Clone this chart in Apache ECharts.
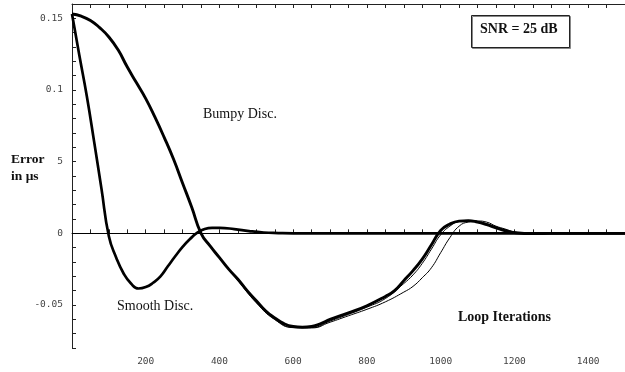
<!DOCTYPE html>
<html>
<head>
<meta charset="utf-8">
<script src="https://cdn.jsdelivr.net/npm/echarts@6/dist/echarts.min.js"></script>
<style>
  html, body { margin: 0; padding: 0; background: #fff; }
  #chart { width: 625px; height: 372px; }
</style>
</head>
<body>
<div id="chart"></div>
<script>
// smooth disc: thick measured curve
const smoothX = [0, 20, 40, 60, 80, 100, 120, 140, 160, 180, 200, 220, 240, 260, 280, 300, 320, 340, 360, 380, 400, 440, 480, 520, 560, 600, 700, 800, 900, 1000, 1100, 1200, 1300, 1400, 1500];
const smoothY = [0.153, 0.124, 0.096, 0.064, 0.031, -0.002, -0.017, -0.028, -0.035, -0.0385, -0.0375, -0.0345, -0.03, -0.023, -0.016, -0.0095, -0.004, 0.0005, 0.003, 0.0038, 0.0038, 0.003, 0.0016, 0.0006, 0.0002, 0, 0, 0, 0, 0, 0, 0, 0, 0, 0];

// bumpy disc: thick measured curve
const bumpyX = [0, 25, 50, 75, 100, 125, 150, 175, 200, 225, 250, 275, 300, 325, 350, 375, 400, 425, 450, 475, 500, 525, 550, 575, 600, 625, 650, 675, 700, 750, 800, 850, 875, 900, 925, 950, 975, 1000, 1025, 1050, 1075, 1100, 1125, 1150, 1175, 1200, 1250, 1300, 1400, 1500];
const bumpyY = [0.153, 0.1515, 0.1485, 0.1435, 0.137, 0.128, 0.116, 0.105, 0.094, 0.081, 0.067, 0.052, 0.035, 0.018, 0.0, -0.009, -0.017, -0.025, -0.032, -0.04, -0.047, -0.054, -0.059, -0.063, -0.065, -0.0655, -0.065, -0.063, -0.06, -0.0555, -0.0505, -0.044, -0.04, -0.033, -0.026, -0.018, -0.008, 0.002, 0.0065, 0.0085, 0.0088, 0.0078, 0.006, 0.0038, 0.0018, 0.0005, -0.0002, 0, 0, 0];

// thin theory curve close to the bumpy one
const theoryAX = [400, 450, 500, 550, 600, 650, 700, 750, 800, 850, 900, 925, 950, 975, 1000, 1025, 1050, 1075, 1100, 1125, 1150, 1175, 1200, 1250, 1300, 1500];
const theoryAY = [-0.017, -0.0325, -0.0478, -0.0598, -0.0655, -0.0657, -0.0612, -0.0565, -0.0515, -0.0455, -0.035, -0.029, -0.021, -0.011, -0.001, 0.005, 0.0083, 0.009, 0.0083, 0.0068, 0.0045, 0.0025, 0.0008, 0, 0, 0];

// thin theory curve lagging behind
const theoryBX = [400, 450, 500, 550, 600, 650, 700, 750, 800, 850, 900, 925, 950, 975, 1000, 1025, 1050, 1075, 1100, 1125, 1150, 1175, 1200, 1225, 1250, 1300, 1500];
const theoryBY = [-0.0175, -0.033, -0.0485, -0.0602, -0.0658, -0.066, -0.062, -0.0575, -0.053, -0.0478, -0.041, -0.037, -0.031, -0.024, -0.0135, -0.003, 0.005, 0.0079, 0.0086, 0.0078, 0.005, 0.003, 0.001, 0, -0.0003, 0, 0];

// tick labels
const xLabelValues = [200, 400, 600, 800, 1000, 1200, 1400];
const yLabelValues = [-0.05, 0, 0.05, 0.1, 0.15];
const yLabelTexts = ['-0.05', '0', '5', '0.1', '0.15'];

const pairs = (xs, ys) => xs.map((x, i) => [x, ys[i]]);

const chart = echarts.init(document.getElementById('chart'));

const axisFont = {
  fontFamily: 'DejaVu Sans Mono',
  fontSize: 9.5,
  color: '#444',
};

const lineSeries = (name, xs, ys, width) => ({
  name: name,
  type: 'line',
  data: pairs(xs, ys),
  smooth: 0.5,
  showSymbol: false,
  symbol: 'none',
  lineStyle: { color: '#000', width: width },
  z: width > 2 ? 3 : 4,
});

const option = {
  animation: false,
  backgroundColor: '#fff',
  grid: { left: 72, top: 4, right: -3, bottom: 24 },
  xAxis: [
    {
      type: 'value',
      min: 0,
      max: 1500,
      interval: 50,
      axisLine: { lineStyle: { color: '#222', width: 1 } },
      axisTick: { inside: true, length: 4, lineStyle: { color: '#222' } },
      axisLabel: Object.assign({}, axisFont, {
        margin: 9,
        showMinLabel: false,
        showMaxLabel: false,
        formatter: (v) => (xLabelValues.indexOf(Math.round(v)) >= 0 ? String(Math.round(v)) : ''),
      }),
      splitLine: { show: false },
    },
    {
      type: 'value',
      position: 'top',
      min: 0,
      max: 1500,
      interval: 50,
      axisLine: { lineStyle: { color: '#222', width: 1 } },
      axisTick: { inside: true, length: 4, lineStyle: { color: '#222' } },
      axisLabel: { show: false },
      splitLine: { show: false },
    },
  ],
  yAxis: {
    type: 'value',
    min: -0.08,
    max: 0.16,
    interval: 0.01,
    axisLine: { show: true, lineStyle: { color: '#222', width: 1 } },
    axisTick: { show: true, inside: true, length: 4, lineStyle: { color: '#222' } },
    axisLabel: Object.assign({}, axisFont, {
      margin: 9,
      formatter: (v) => {
        const r = Math.round(v * 100);
        const idx = yLabelValues.findIndex((t) => Math.round(t * 100) === r);
        return idx >= 0 ? yLabelTexts[idx] : '';
      },
    }),
    splitLine: { show: false },
  },
  series: [
    Object.assign(lineSeries('Smooth Disc.', smoothX, smoothY, 2.7), {
      markLine: {
        silent: true,
        symbol: 'none',
        label: { show: false },
        lineStyle: { color: '#000', width: 1, type: 'solid' },
        data: [{ yAxis: 0 }],
      },
    }),
    lineSeries('Bumpy Disc.', bumpyX, bumpyY, 2.9),
    lineSeries('Theory A', theoryAX, theoryAY, 1),
    lineSeries('Theory B', theoryBX, theoryBY, 1),
  ],
  graphic: [
    {
      type: 'text', left: 203, top: 107,
      style: { text: 'Bumpy Disc.', font: '14px "Liberation Serif"', fill: '#111' },
    },
    {
      type: 'text', left: 117, top: 299,
      style: { text: 'Smooth Disc.', font: '14px "Liberation Serif"', fill: '#111' },
    },
    {
      type: 'text', left: 11, top: 151,
      style: { text: 'Error\nin μs', font: 'bold 13.5px "Liberation Serif"', lineHeight: 17, fill: '#111' },
    },
    {
      type: 'text', left: 458, top: 310,
      style: { text: 'Loop Iterations', font: 'bold 14px "Liberation Serif"', fill: '#111' },
    },
    {
      type: 'rect',
      shape: { x: 471.5, y: 15.5, width: 98, height: 32 },
      style: { fill: '#fff', stroke: '#222', lineWidth: 1, shadowColor: '#888', shadowOffsetX: 1, shadowOffsetY: 1 },
      z: 10,
    },
    {
      type: 'text', left: 480, top: 22, z: 11,
      style: { text: 'SNR = 25 dB', font: 'bold 14px "Liberation Serif"', fill: '#111' },
    },
  ],
};

chart.setOption(option);
</script>
</body>
</html>
